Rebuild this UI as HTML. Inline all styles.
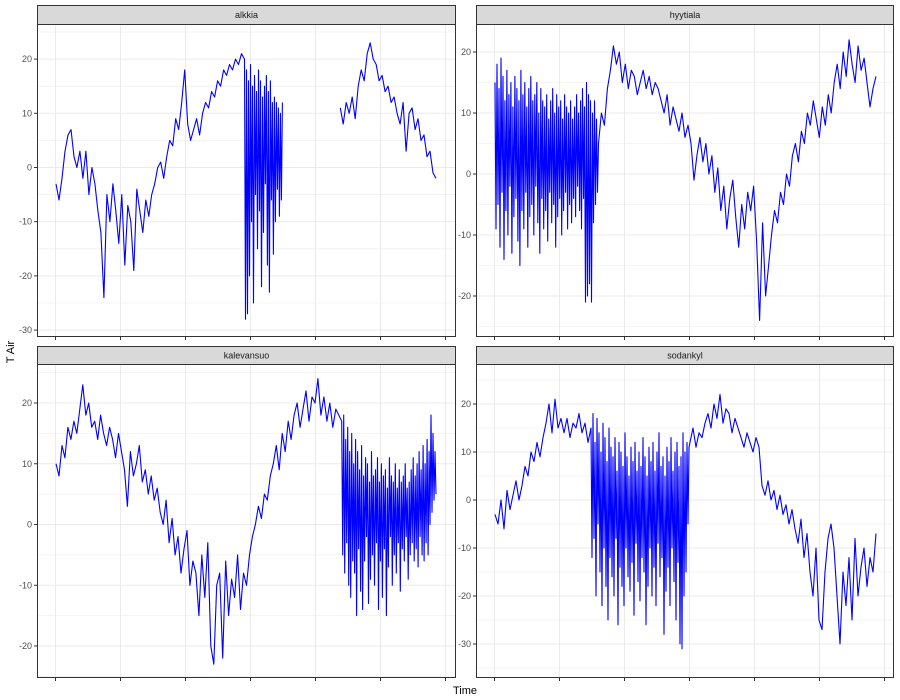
<!DOCTYPE html>
<html><head><meta charset="utf-8"><style>
body{margin:0;background:#fff;}
svg{display:block;font-family:"Liberation Sans",sans-serif;}
</style></head><body>
<svg id="c" width="900" height="700"></svg>
<script>
const panelNames = ["alkkia","hyytiala","kalevansuo","sodankyl"];
// nested arrays = high-frequency (3 readings per time slot) segments
const alkkiaDense = [20,-28,18,-27,16,-20,19,-10,15,-25,17,-5,14,-15,18,-8,16,-22,13,-12,15,-3,17,-18,14,-23,16,-6,12,-16,13,-10,12,-4,11,-9,10,-6,12];
const alkkia = [-3,-6,-2,3,6, 7,2,0,3,-2, 3,-5,0,-3,-8,-12, -24,
 -5,-10,-3,-8,-14,-5,-18,-7,-10,-19,-4,-8,-12,-6,-9,
 -5,-3,0,1,-2, 2,5,4,9,7,12,18, 8,5,7,9,6,
 10,12,11,14,13,16,15,18,17,19,18,20,19,21,
 alkkiaDense,
 null,null,null,null,null,null,null,null,null,null,null,null,null,null,null,null,null,null,null,
 11,8,12,10,13,9,15, 18,16,21,23,20, 19,16,17,14,15,12,13,10,
 8,12,3,10,11,7,9,5,6,2,3,-1,-2];
const hyytialaDense = [15,-9,18,-5,14,-12,19,-3,16,-14,12,-6,17,-10,13,-2,15,-13,11,-7,16,-4,14,-11,12,-15,17,-6,13,-9,15,-3,11,-12,14,-7,16,-5,12,-10,13,-2,15,-8,10,-13,14,-4,12,-9,11,-6,13,-11,9,-3,12,-8,14,-5,10,-12,13,-7,11,-4,12,-10,9,-6,13,-3,11,-9,10,-5,12,-8,9,-4,11,-7,13,-2,10,-6,12,-9,14,-4,11,-21,15,-20,13,-18,12,-21,10,-8,12,-5,9,-3];
const hyytiala = [hyytialaDense,
 5,10,8,14,17,21,18,20,
 15,18,14,17,16,13,15,17,14,16,13,15,14,
 12,10,13,8,11,9,7,10,6,8,5,-1,3,
 6,2,5,0,3,-3,1,-6,-2,-9,-4,-1,-7,
 -12,-5,-9,-3,-6,-2,-11,-24,-8,-20,
 -15,-10,-6,-8,-3,-5,0,-2,3,5,
 2,7,5,10,8,12,9,6,11,8,
 13,10,15,18,14,20,16,22,18,15,21,
 17,19,15,11,14,16];
const kalevansuoDense = [17,-5,18,-8,14,-3,16,-10,12,-12,15,-6,10,-8,14,-15,12,-4,9,-11,13,-14,8,-6,11,-2,10,-13,7,-9,12,-5,8,-10,9,-3,11,-14,7,-6,10,-12,8,-4,9,-15,6,-7,11,-2,8,-10,7,-5,10,-8,6,-3,9,-11,7,-4,8,-6,10,-2,6,-9,7,-5,9,-3,11,-6,8,-4,10,-7,12,-2,9,-5,13,-6,10,-3,14,-5,12,0,18,2,15,4,12,5];
const kalevansuo = [10,8,13,11,16,14,17,15, 19,23,18,20,16,
 17,14,18,15,13,16,14,11,15,12,9,3,
 12,8,10,13,7,9,5,8,4,6,
 2,0,4,-3,1,-5,-2,-8,-4,-1,-10,-6,
 -8,-15,-5,-12,-3,-20,-23,-10,-8,-22,-6,-15,-9,-12,-5,-14,
 -8,-10,-5,-2,0,3,1,5,4,
 8,10,13,9,15,12,17,14,18,
 20,16,19,22,17,21,20,24,
 18,21,17,20,16,19,18,
 kalevansuoDense];
const sodankylDense = [15,-12,18,-8,12,-20,17,-5,14,-15,10,-22,16,-10,13,-18,8,-25,15,-12,11,-16,9,-20,13,-8,6,-26,12,-14,10,-18,7,-22,14,-10,9,-16,5,-19,11,-13,8,-24,12,-9,6,-17,10,-21,7,-12,13,-15,9,-26,5,-18,11,-10,8,-20,12,-14,6,-22,10,-9,14,-16,7,-12,9,-28,5,-19,11,-14,8,-22,13,-10,6,-17,10,-25,12,-13,7,-30,9,-31,14,-20,10,-15,12,-5,11];
const sodankyl = [-3,-5,0,-6,2,-2,1,4,0,
 3,7,5,10,8,12,9,13,
 16,20,14,21,15,17,
 14,17,13,16,15,18,14,16,12,
 sodankylDense,
 12,15,11,14,13,
 16,18,15,20,17,22,16,19,18,14,17,15,
 13,11,14,12,10,13,11,
 3,1,4,0,2,-2,1,-3,-1,-5,-2,-6,
 -9,-4,-12,-7,-15,-20,-10,-25,-27,-15,-8,
 -5,-10,-20,-30,-15,-22,-12,-25,-8,-20,-14,-10,-18,-12,-15,-7];
const seriesList = [alkkia,hyytiala,kalevansuo,sodankyl];
const yTicks = [[-30,-20,-10,0,10,20],[-20,-10,0,10,20],[-20,-10,0,10,20],[-30,-20,-10,0,10,20]];

const NS="http://www.w3.org/2000/svg";
const svg=document.getElementById('c');
function mk(t,a,p){const e=document.createElementNS(NS,t);for(const k in a)e.setAttribute(k,a[k]);(p||svg).appendChild(e);return e;}
const P=[
 {l:37,r:456,st:5,t:24,b:337,z:167.5,k:5.42,x0:56,x1:436},
 {l:476,r:894,st:5,t:24,b:337,z:174,k:6.1,x0:495,x1:876},
 {l:37,r:456,st:346,t:364,b:678,z:524.5,k:6.075,x0:56,x1:436},
 {l:476,r:894,st:346,t:364,b:678,z:500,k:4.8,x0:495,x1:876}];
P.forEach((p,pi)=>{
 const g=mk('g',{});
 
 
 const ys=v=>p.z-v*p.k;
 const vmin=(p.z-p.b)/p.k, vmax=(p.z-p.t)/p.k;
 for(let v=Math.ceil(vmin/5)*5;v<=vmax;v+=5){
   mk('line',{x1:p.l,x2:p.r,y1:ys(v),y2:ys(v),stroke:'#ebebeb','stroke-width':v%10===0?1:0.6},g);
 }
 for(let x=p.l+18.5;x<p.r;x+=65){
   mk('line',{x1:x,x2:x,y1:p.t,y2:p.b,stroke:'#ebebeb','stroke-width':1},g);
 }
 // flatten series into (slot, value)
 const pts=[];let pos=0;
 seriesList[pi].forEach(e=>{
   if(Array.isArray(e)){e.forEach((v,j)=>pts.push([pos+j/3,v]));pos+=e.length/3;}
   else{pts.push([pos,e]);pos+=1;}
 });
 const total=pts[pts.length-1][0];
 const xs=s=>p.x0+(p.x1-p.x0)*s/total;
 let d='',pen=false;
 pts.forEach(([s,v])=>{if(v===null){pen=false;return;}d+=(pen?'L':'M')+xs(s).toFixed(1)+','+ys(v).toFixed(1);pen=true;});
 const line=mk('path',{d:d,fill:'none',stroke:'#0000ff','stroke-width':1.1,'stroke-linejoin':'round'},g);
 
 
 mk('rect',{x:p.l+0.5,y:p.t+0.5,width:p.r-p.l-1,height:p.b-p.t-1,fill:'none',stroke:'#333','stroke-width':1},g);
 const strip=mk('rect',{x:p.l+0.5,y:p.st+0.5,width:p.r-p.l-1,height:p.t-p.st,fill:'#d9d9d9',stroke:'#333','stroke-width':1},g);
 
 
 const st=mk('text',{x:(p.l+p.r)/2,y:(p.st+p.t)/2+3.5,'text-anchor':'middle','font-size':9,fill:'#1a1a1a'},g);
 st.textContent=panelNames[pi];
 
 
 yTicks[pi].forEach(v=>{
   const y=ys(v);
   mk('line',{x1:p.l-3,x2:p.l,y1:y,y2:y,stroke:'#333'},g);
   const t=mk('text',{x:p.l-5,y:y+3,'text-anchor':'end','font-size':9,fill:'#4d4d4d'},g);
   t.textContent=v;
   
   
 });
 for(let x=p.l+18.5;x<p.r;x+=65) mk('line',{x1:x,x2:x,y1:p.b,y2:p.b+3,stroke:'#333'},g);
});
const yt=mk('text',{x:14,y:352,'text-anchor':'middle','font-size':11,fill:'#000',transform:'rotate(-90 14 352)'});
yt.textContent='T Air';


const xt=mk('text',{x:465,y:694,'text-anchor':'middle','font-size':11,fill:'#000'});
xt.textContent='Time';


</script>
</body></html>
